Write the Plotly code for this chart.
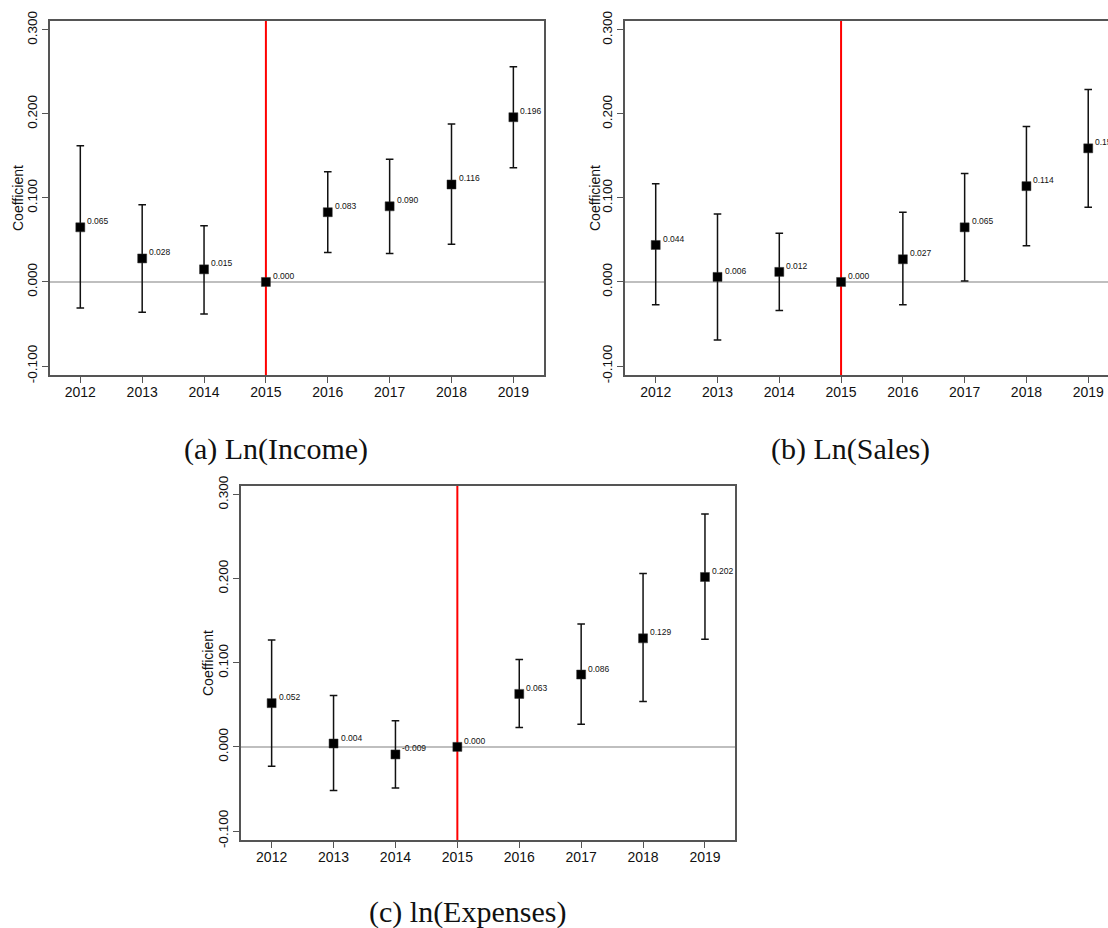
import plotly.graph_objects as go

# Event-study coefficients with 95% confidence intervals, base year 2015
years = [2012, 2013, 2014, 2015, 2016, 2017, 2018, 2019]
base_year = 2015

income_coef = [0.065, 0.028, 0.015, 0.000, 0.083, 0.090, 0.116, 0.196]
income_lo = [-0.031, -0.036, -0.038, 0.000, 0.035, 0.034, 0.045, 0.136]
income_hi = [0.162, 0.092, 0.067, 0.000, 0.131, 0.146, 0.188, 0.256]

sales_coef = [0.044, 0.006, 0.012, 0.000, 0.027, 0.065, 0.114, 0.159]
sales_lo = [-0.027, -0.069, -0.034, 0.000, -0.027, 0.001, 0.043, 0.089]
sales_hi = [0.117, 0.081, 0.058, 0.000, 0.083, 0.129, 0.185, 0.229]

expenses_coef = [0.052, 0.004, -0.009, 0.000, 0.063, 0.086, 0.129, 0.202]
expenses_lo = [-0.023, -0.052, -0.049, 0.000, 0.023, 0.027, 0.054, 0.128]
expenses_hi = [0.127, 0.061, 0.031, 0.000, 0.104, 0.146, 0.206, 0.277]

y_tick_vals = [-0.1, 0.0, 0.1, 0.2, 0.3]
y_tick_text = ["-0.100", "0.000", "0.100", "0.200", "0.300"]
x_tick_text = [str(y) for y in years]

captions = ["(a) Ln(Income)", "(b) Ln(Sales)", "(c) ln(Expenses)"]
y_title = "Coefficient"

W, H = 1108, 928

# panel boxes in pixels: (left, right, top, bottom), plus x range
panels = [
    dict(coef=income_coef, lo=income_lo, hi=income_hi,
         box=(50, 544.3, 21, 375), xr=[2011.51, 2019.5], right_frame=True,
         title_xy=(18, 198), caption_xy=(276, 449)),
    dict(coef=sales_coef, lo=sales_lo, hi=sales_hi,
         box=(625, 1108, 21, 375), xr=[2011.503, 2019.32], right_frame=False,
         title_xy=(595, 198), caption_xy=(850, 449)),
    dict(coef=expenses_coef, lo=expenses_lo, hi=expenses_hi,
         box=(241, 735.3, 485.7, 840), xr=[2011.505, 2019.49], right_frame=True,
         title_xy=(208, 663), caption_xy=(467, 912)),
]

y_range = [-0.1107, 0.3105]
axis_color = "#555555"
sans = "Liberation Sans, Arial, Helvetica, sans-serif"
serif = "Liberation Serif, Times New Roman, serif"

fig = go.Figure()
layout = dict(
    width=W, height=H,
    margin=dict(l=0, r=0, t=0, b=0, pad=0, autoexpand=False),
    paper_bgcolor="white", plot_bgcolor="white",
    showlegend=False,
    shapes=[], annotations=[],
)

for i, p in enumerate(panels):
    n = "" if i == 0 else str(i + 1)
    xa, ya = f"x{n}", f"y{n}"
    left, right, top, bottom = p["box"]

    err_plus = [h - c for h, c in zip(p["hi"], p["coef"])]
    err_minus = [c - l for c, l in zip(p["coef"], p["lo"])]

    fig.add_trace(go.Scatter(
        x=years, y=p["coef"], mode="markers",
        xaxis=xa, yaxis=ya,
        marker=dict(symbol="square", size=9, color="black",
                    line=dict(color="#333333", width=0.5)),
        error_y=dict(type="data", symmetric=False,
                     array=err_plus, arrayminus=err_minus,
                     color="#111111", thickness=1.5, width=3.8),
        hoverinfo="skip",
    ))

    layout[f"xaxis{n}"] = dict(
        domain=[left / W, right / W], anchor=ya, range=p["xr"],
        tickmode="array", tickvals=years, ticktext=x_tick_text,
        showline=True, linecolor=axis_color, linewidth=1.5, mirror=True,
        ticks="outside", ticklen=6, tickwidth=1.2, tickcolor=axis_color,
        ticklabelstandoff=-3,
        showgrid=False, zeroline=False, automargin=False,
        tickfont=dict(family=sans, size=14, color="#111111"),
    )
    layout[f"yaxis{n}"] = dict(
        domain=[1 - bottom / H, 1 - top / H], anchor=xa, range=y_range,
        tickmode="array", tickvals=y_tick_vals, ticktext=y_tick_text,
        tickangle=-90,
        showline=True, linecolor=axis_color, linewidth=1.5,
        mirror=p["right_frame"],
        ticks="outside", ticklen=6, tickwidth=1.2, tickcolor=axis_color,
        showgrid=False, zeroline=False, automargin=False,
        tickfont=dict(family=sans, size=13.5, color="#111111"),
    )

    # horizontal reference line at zero
    layout["shapes"].append(dict(
        type="line", xref=f"{xa} domain", yref=ya,
        x0=0, x1=1, y0=0, y1=0,
        line=dict(color="#aaaaaa", width=1.5), layer="below",
    ))
    # vertical line marking the base year
    layout["shapes"].append(dict(
        type="line", xref=xa, yref=f"{ya} domain",
        x0=base_year, x1=base_year, y0=0, y1=1,
        line=dict(color="#ff0000", width=2), layer="below",
    ))

    # value labels next to each point
    for yr, c in zip(years, p["coef"]):
        layout["annotations"].append(dict(
            x=yr, y=c, xref=xa, yref=ya, text=f"{c:.3f}",
            showarrow=False, xanchor="left", yanchor="middle",
            xshift=5, yshift=6,
            font=dict(family=sans, size=8.5, color="#111111"),
        ))

    # y-axis title
    tx, ty = p["title_xy"]
    layout["annotations"].append(dict(
        x=tx / W, y=1 - ty / H, xref="paper", yref="paper",
        text=y_title, textangle=-90, showarrow=False,
        xanchor="center", yanchor="middle",
        font=dict(family=sans, size=14, color="#111111"),
    ))

    # panel caption
    cx, cy = p["caption_xy"]
    layout["annotations"].append(dict(
        x=cx / W, y=1 - cy / H, xref="paper", yref="paper",
        text=captions[i], showarrow=False,
        xanchor="center", yanchor="middle",
        font=dict(family=serif, size=30, color="#111111"),
    ))

fig.update_layout(**layout)
fig.write_html("out.html")
